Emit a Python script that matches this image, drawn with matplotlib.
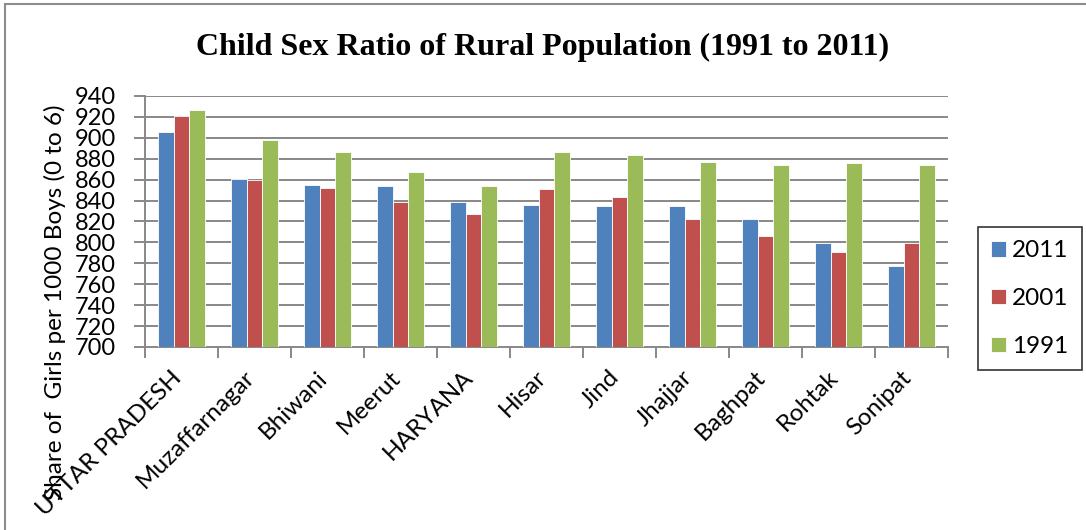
import numpy as np
import matplotlib.pyplot as plt
from matplotlib.patches import Rectangle

# Child sex ratio values (girls per 1000 boys, age 0-6), rural population
regions = ['UTTAR PRADESH', 'Muzaffarnagar', 'Bhiwani', 'Meerut', 'HARYANA',
           'Hisar', 'Jind', 'Jhajjar', 'Baghpat', 'Rohtak', 'Sonipat']
csr_2011 = [906, 861, 855, 854, 839, 836, 835, 835, 822, 799, 777]
csr_2001 = [921, 860, 852, 839, 827, 851, 843, 822, 806, 791, 799]
csr_1991 = [927, 898, 886, 867, 854, 886, 884, 877, 874, 876, 874]

years = ['2011', '2001', '1991']
colors = ['#4F81BD', '#C0504D', '#9BBB59']

fs = 17.5
fig = plt.figure(figsize=(10.86, 5.30), dpi=100)
ax = fig.add_axes([0.1335, 0.3453, 0.7395, 0.4736])

# outer chart frame
fig.patches.append(Rectangle((5 / 1086, -0.1), 1.2, 1 - 4 / 530 + 0.1,
                             transform=fig.transFigure, fill=False,
                             edgecolor='#8c8c8c', linewidth=1.5))

x = np.arange(len(regions))
w = 0.215
for i, (vals, lab, c) in enumerate(zip([csr_2011, csr_2001, csr_1991], years, colors)):
    ax.bar(x + (i - 1) * w, np.array(vals) - 700, bottom=700, width=w,
           color=c, edgecolor='white', linewidth=0.6, label=lab, zorder=3)

ax.set_xlim(-0.5, len(regions) - 0.5)
ax.set_ylim(700, 940)
ax.set_yticks(range(700, 941, 20))

grid_c = '#888888'
for y in range(720, 941, 20):
    ax.axhline(y, color=grid_c, linewidth=1.4, zorder=1)

for s in ['top', 'right']:
    ax.spines[s].set_visible(False)
for s in ['left', 'bottom']:
    ax.spines[s].set_color(grid_c)
    ax.spines[s].set_linewidth(1.4)

ax.set_xticks(np.arange(len(regions) + 1) - 0.5, minor=False)
ax.set_xticklabels([])
ax.tick_params(axis='x', length=8, color=grid_c, width=1.4)
ax.tick_params(axis='y', length=8, color=grid_c, width=1.4, pad=13,
               labelsize=17)
for lab in ax.get_yticklabels():
    lab.set_fontfamily('Lato')

# rotated category names, right end placed under each group
for xi, name in zip(x, regions):
    ax.text(xi - 0.15, 681, name, rotation=45, ha='right', va='top',
            rotation_mode='anchor', fontsize=fs, family='Lato')

fig.text(0.5, 1 - 47 / 530, 'Child Sex Ratio of Rural Population (1991 to 2011)',
         ha='center', va='center', fontsize=23, fontweight='bold',
         family='Liberation Serif')

fig.text(55 / 1086, 1 - 302 / 530, 'Share of  Girls per 1000 Boys (0 to 6)',
         rotation=90, ha='center', va='center', fontsize=fs, family='Lato')

leg = fig.legend(loc='upper left', bbox_to_anchor=(978 / 1086, 1 - 227 / 530),
                 frameon=True, fancybox=False, edgecolor='black',
                 prop={'family': 'Lato', 'size': fs}, handlelength=0.6,
                 handleheight=0.6, handletextpad=0.25, labelspacing=1.1,
                 borderpad=0.55, borderaxespad=0)
leg.get_frame().set_linewidth(1.2)

fig.savefig('out.png', dpi=100)
